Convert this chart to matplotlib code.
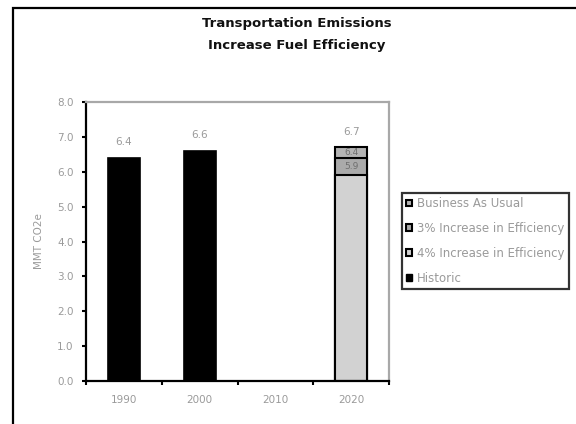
import matplotlib
matplotlib.use("Agg")
import matplotlib.pyplot as plt
from matplotlib.patches import Rectangle, Patch

plt.rcParams['font.family'] = ['DejaVu Sans']

# Data
years = ["1990", "2000", "2010", "2020"]
historic = [6.4, 6.6, None, None]
scenario_labels = ["Business As Usual", "3% Increase in Efficiency", "4% Increase in Efficiency"]
scenario_2020 = [6.7, 6.4, 5.9]
yticks = [0.0, 1.0, 2.0, 3.0, 4.0, 5.0, 6.0, 7.0, 8.0]

scenario_colors = ["#b4b4b4", "#aaaaaa", "#d2d2d2"]
label_gray = "#9a9a9a"

W, H = 576, 424
fig = plt.figure(figsize=(W / 100, H / 100), dpi=100)

# Outer chart frame (runs off the right and bottom edges)
fig.patches.append(Rectangle((13 / W, -0.2), 1.2, 1 - 8 / H + 0.2, transform=fig.transFigure,
                             fill=False, edgecolor="black", linewidth=1.6, clip_on=False))

ax = fig.add_axes([86 / W, 1 - 381 / H, (389 - 86) / W, (381 - 102) / H])

bar_w = 0.42
x = list(range(len(years)))

# Historic bars
for i, v in enumerate(historic):
    if v is not None:
        ax.bar(i, v, width=bar_w, color="black", edgecolor="black", linewidth=1.2, zorder=2)
        ax.text(i, v + 0.3, f"{v:.1f}", ha="center", va="bottom", fontsize=7.5, color=label_gray)

# 2020 scenarios, drawn from largest to smallest so each stays visible
i2020 = years.index("2020")
for val, col in zip(scenario_2020, scenario_colors):
    ax.bar(i2020, val, width=bar_w, color=col, edgecolor="black", linewidth=1.5, zorder=2)

# Value labels for the scenarios: each sits just above its own bar top
tops = sorted(scenario_2020)
for k, val in enumerate(tops):
    if k + 1 < len(tops):
        y = (val + tops[k + 1]) / 2
        ax.text(i2020, y, f"{val:.1f}", ha="center", va="center", fontsize=6.5,
                color="#6e6e6e", zorder=3)
    else:
        ax.text(i2020, val + 0.3, f"{val:.1f}", ha="center", va="bottom", fontsize=7.5,
                color=label_gray, zorder=3)

ax.set_xlim(-0.5, 3.5)
ax.set_ylim(0, 8)
ax.set_yticks(yticks)
ax.set_yticklabels([f"{t:.1f}" for t in yticks], fontsize=7.5, color=label_gray)

# Category separators as ticks, labels centred under each category
ax.set_xticks([-0.5, 0.5, 1.5, 2.5, 3.5])
ax.set_xticklabels([])
ax.set_xticks(x, minor=True)
ax.set_xticklabels(years, minor=True, fontsize=7.5, color=label_gray)
ax.tick_params(axis="x", which="minor", length=0, pad=10)
ax.tick_params(axis="x", which="major", length=3, width=1.5, direction="out", color="black")
ax.tick_params(axis="y", length=3, width=1.5, direction="out", color="black", pad=6)

ax.set_ylabel("MMT CO2e", fontsize=7.5, color=label_gray, labelpad=9)

for s in ["left", "bottom"]:
    ax.spines[s].set_color("black")
    ax.spines[s].set_linewidth(1.6)
for s in ["top", "right"]:
    ax.spines[s].set_color("#a8a8a8")
    ax.spines[s].set_linewidth(1.6)

fig.text(297 / W, 1 - 24 / H, "Transportation Emissions", ha="center", va="center",
         fontsize=9.5, fontweight="bold", color="#111111")
fig.text(297 / W, 1 - 45 / H, "Increase Fuel Efficiency", ha="center", va="center",
         fontsize=9.5, fontweight="bold", color="#111111")

handles = [Patch(facecolor=c, edgecolor="black", linewidth=1.5) for c in scenario_colors]
handles.append(Patch(facecolor="black", edgecolor="black"))
labels = scenario_labels + ["Historic"]
leg = fig.legend(handles, labels, loc="upper left",
                 bbox_to_anchor=(402 / W, 1 - 193 / H), bbox_transform=fig.transFigure,
                 fontsize=8.5, frameon=True, fancybox=False, borderaxespad=0,
                 handlelength=0.5, handleheight=0.5, handletextpad=0.45,
                 labelspacing=1.0, borderpad=0.35)
leg.get_frame().set_edgecolor("black")
leg.get_frame().set_linewidth(1.6)
for t in leg.get_texts():
    t.set_color(label_gray)

fig.savefig("out.png", dpi=100)
